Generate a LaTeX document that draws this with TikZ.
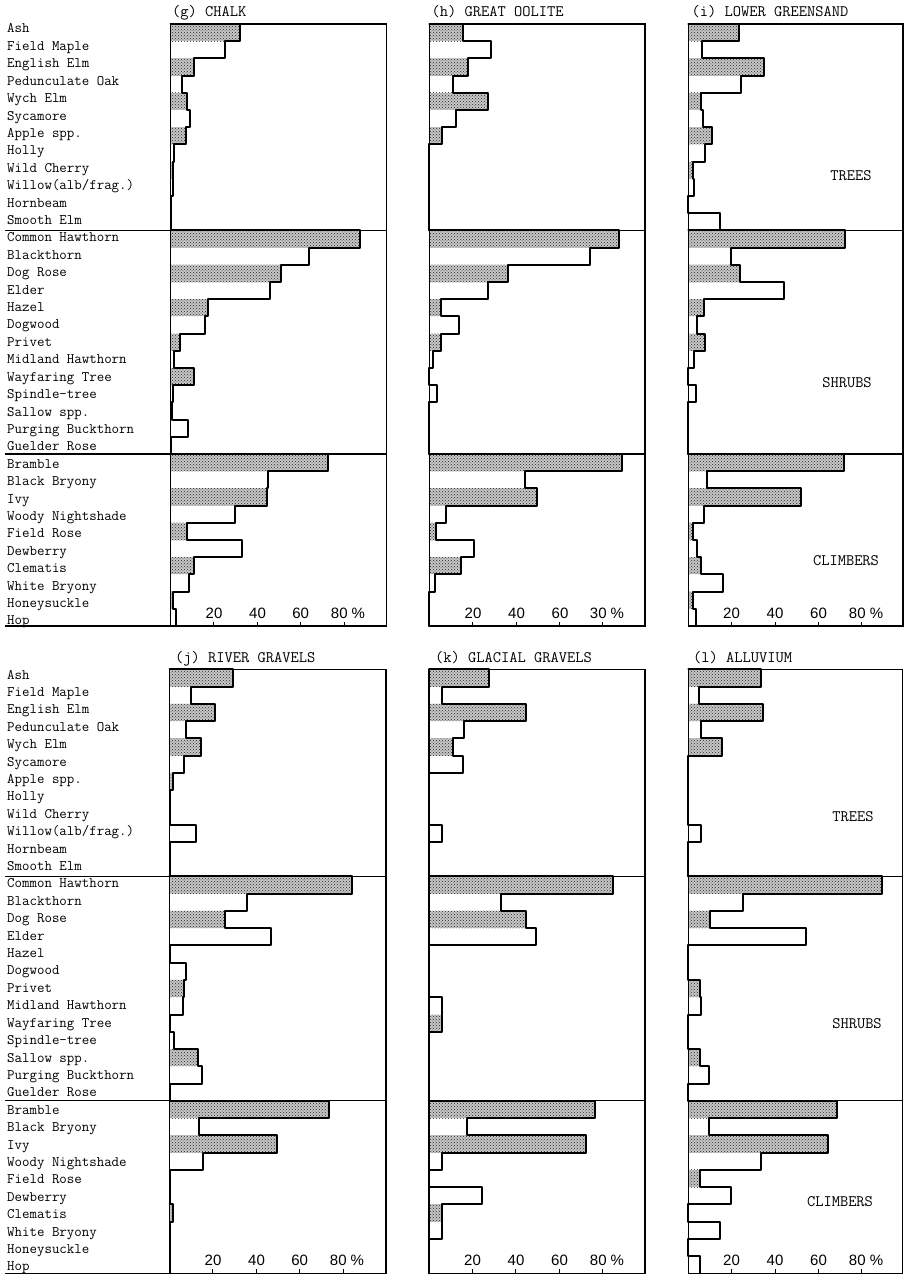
\documentclass[tikz,border=0pt]{standalone}
\usepackage{fontspec}
\newfontfamily\tickfont{Liberation Sans}
\usetikzlibrary{positioning}
\usetikzlibrary{patterns}

\tikzset{
  frame/.style={line width=1.1pt},
  barline/.style={line width=2pt, line cap=round, line join=round},
  stipple/.style={fill=black!22, postaction={pattern=crosshatch dots, pattern color=black!85}},
  species/.style={anchor=base west, inner sep=0pt, font=\ttfamily\fontsize{14.5}{15}\selectfont},
  paneltitle/.style={anchor=base west, inner sep=0pt, font=\ttfamily\fontsize{16}{17}\selectfont},
  grouplabel/.style={inner sep=0pt, font=\ttfamily\fontsize{16}{17}\selectfont},
  ticklabel/.style={anchor=base, inner sep=0pt, font=\tickfont\fontsize{15}{16}\selectfont},
}

\def\pc{2.17}

% one block of bars: left edge, top of block, row height, values
\newcommand{\barblock}[4]{%
  \foreach \v [count=\k from 0] in {#4} {
    \ifodd\k\relax\else
      \fill[stipple] (#1,{#2+\k*#3}) rectangle ({#1+\v*\pc},{#2+(\k+1)*#3});
    \fi
  }
  \draw[barline] (#1,#2)
    \foreach \v [count=\k from 0] in {#4} {
      -- ({#1+\v*\pc},{#2+\k*#3}) -- ({#1+\v*\pc},{#2+(\k+1)*#3})
    };
}

% frame, dividers and axis ticks of one panel
\newcommand{\panelframe}[5]{% left, right, top, row height, tick label base
  \draw[frame] (#1,#3) rectangle (#2,{#3+35*#4});
  \draw[frame] (#1,{#3+12*#4}) -- (#2,{#3+12*#4});
  \draw[frame] (#1,{#3+25*#4}) -- (#2,{#3+25*#4});
  \foreach \t in {20,40,60,80}
    \draw[frame] ({#1+\t*\pc},{#3+35*#4}) -- ++(0,-4);
}

\begin{document}
\begin{tikzpicture}[x=1pt, y=-1pt]
\useasboundingbox (0,0) rectangle (911,1276);

% species names, upper and lower half
\foreach \name [count=\n from 0] in {Ash, Field Maple, English Elm, Pedunculate Oak,
    Wych Elm, Sycamore, Apple spp., Holly, Wild Cherry, {Willow(alb/frag.)}, Hornbeam,
    Smooth Elm, Common Hawthorn, Blackthorn, Dog Rose, Elder, Hazel, Dogwood, Privet,
    Midland Hawthorn, Wayfaring Tree, Spindle-tree, Sallow spp., Purging Buckthorn,
    Guelder Rose, Bramble, Black Bryony, Ivy, Woody Nightshade, Field Rose, Dewberry,
    Clematis, White Bryony, Honeysuckle, Hop} {
  \node[species] (up\n) at (7,{33+17.41*\n}) {\name};
  \node[species] (lo\n) at (7,{679+17.41*\n}) {\name};
}

% ---- upper row ----
% (g) chalk
\node[paneltitle] (tg) at (172,17) {(g) CHALK};
\barblock{170.5}{24}{17.2}{32,25,11,5.4,7.4,8.8,7.2,1.5,1,1,0,0}
\barblock{170.5}{230.4}{17.2}{87.4,63.7,50.8,45.8,17.2,15.8,4.6,1.5,11,1,0.8,8.2,0}
\barblock{170.5}{454}{17.2}{72.8,44.9,44.3,29.5,7.4,32.8,10.8,8.6,1,2.6}
\panelframe{170.5}{386.5}{24}{17.2}{618}
\draw[frame] (5,230.4) -- (170.5,230.4);
\draw[frame] (5,454) -- (170.5,454);
\draw[frame] (5,626) -- (170.5,626);
\node[ticklabel] (g20) at (214,618) {20};
\node[ticklabel] (g40) at (257.5,618) {40};
\node[ticklabel] (g60) at (300.7,618) {60};
\node[ticklabel] (g80) at (348,618) {80 \%};

% (h) great oolite
\node[paneltitle] (th) at (431.5,17) {(h) GREAT OOLITE};
\barblock{429.3}{24}{17.2}{15.4,28.5,17.7,11,26.9,12.3,5.8,0,0,0,0,0}
\barblock{429.3}{230.4}{17.2}{87.4,74.2,36.2,27.2,5.2,13.5,5.2,1.5,0,3.4,0,0,0}
\barblock{429.3}{454}{17.2}{88.8,44,49.5,7.8,3,20.8,14.6,2.8,0,0}
\panelframe{429.3}{645}{24}{17.2}{618}
\node[ticklabel] (h20) at (473,618) {20};
\node[ticklabel] (h40) at (516.5,618) {40};
\node[ticklabel] (h60) at (560,618) {60};
\node[ticklabel] (h80) at (607,618) {30 \%};

% (i) lower greensand
\node[paneltitle] (ti) at (691.5,17) {(i) LOWER GREENSAND};
\barblock{688.3}{24}{17.2}{23.5,6.2,35,24.2,6,6.6,10.8,7.7,2,2.6,0,14.6}
\barblock{688.3}{230.4}{17.2}{72,19.7,23.8,44.3,7.2,3.8,7.7,2.6,0,3.4,0,0,0}
\barblock{688.3}{454}{17.2}{71.8,8.5,51.8,7.2,2.3,4.2,5.7,15.8,2.3,3.4}
\panelframe{688.3}{903}{24}{17.2}{618}
\node[ticklabel] (i20) at (731.5,618) {20};
\node[ticklabel] (i40) at (775,618) {40};
\node[ticklabel] (i60) at (818.5,618) {60};
\node[ticklabel] (i80) at (866,618) {80 \%};
\node[grouplabel] (itrees) at (851,176) {TREES};
\node[grouplabel] (ishrubs) at (847,383) {SHRUBS};
\node[grouplabel] (iclimb) at (846,561) {CLIMBERS};

% ---- lower row ----
% (j) river gravels
\node[paneltitle] (tj) at (175,662) {(j) RIVER GRAVELS};
\barblock{169.5}{669.3}{17.26}{29.2,10,20.8,7.7,14.6,6.5,1.5,0,0,12.3,0,0}
\barblock{169.5}{876.42}{17.26}{84.3,35.8,25.8,47,0,7.8,6.6,6.3,0,2,13.1,15.1,0}
\barblock{169.5}{1100.8}{17.26}{73.5,13.5,49.7,15.5,0,0,1.5,0,0,0}
\panelframe{169.5}{386}{669.3}{17.26}{1265}
\draw[frame] (5,876.42) -- (169.5,876.42);
\draw[frame] (5,1100.8) -- (169.5,1100.8);
\draw[frame] (5,1273.4) -- (169.5,1273.4);
\node[ticklabel] (j20) at (213,1265) {20};
\node[ticklabel] (j40) at (256.5,1265) {40};
\node[ticklabel] (j60) at (299.7,1265) {60};
\node[ticklabel] (j80) at (347,1265) {80 \%};

% (k) glacial gravels
\node[paneltitle] (tk) at (435,662) {(k) GLACIAL GRAVELS};
\barblock{429}{669.3}{17.26}{27.8,6.2,44.8,16.3,11.2,15.8,0,0,0,6.2,0,0}
\barblock{429}{876.42}{17.26}{85,33,44.8,49.4,0,0,0,5.8,5.8,0,0,0,0}
\barblock{429}{1100.8}{17.26}{76.6,17.7,72.3,6.2,0,24.3,6.2,6.2,0,0}
\panelframe{429}{645}{669.3}{17.26}{1265}
\node[ticklabel] (k20) at (472.5,1265) {20};
\node[ticklabel] (k40) at (516,1265) {40};
\node[ticklabel] (k60) at (559.5,1265) {60};
\node[ticklabel] (k80) at (607,1265) {80 \%};

% (l) alluvium
\node[paneltitle] (tl) at (693,662) {(l) ALLUVIUM};
\barblock{688.3}{669.3}{17.26}{33.5,4.9,34.2,5.7,15.4,0,0,0,0,5.8,0,0}
\barblock{688.3}{876.42}{17.26}{89.2,25,10,54.3,0,0,5.4,5.8,0,0,5.4,9.7,0}
\barblock{688.3}{1100.8}{17.26}{68.6,9.7,64.6,33.5,5.4,19.7,0,14.6,0,5.4}
\panelframe{688.3}{902.7}{669.3}{17.26}{1265}
\node[ticklabel] (l20) at (731.5,1265) {20};
\node[ticklabel] (l40) at (775,1265) {40};
\node[ticklabel] (l60) at (818.5,1265) {60};
\node[ticklabel] (l80) at (866,1265) {80 \%};
\node[grouplabel] (ltrees) at (853,817) {TREES};
\node[grouplabel] (lshrubs) at (857,1024) {SHRUBS};
\node[grouplabel] (lclimb) at (840,1202) {CLIMBERS};
\end{tikzpicture}
\end{document}
